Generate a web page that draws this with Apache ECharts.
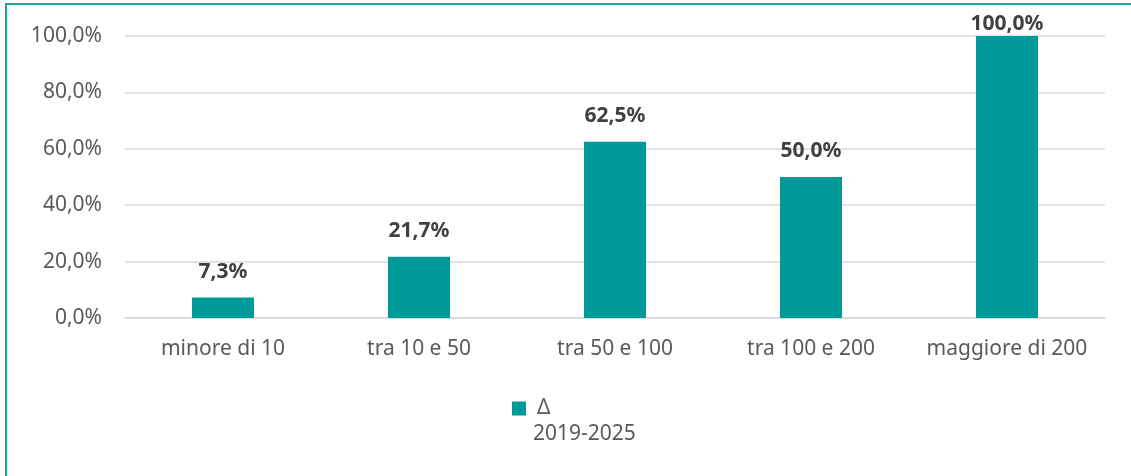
<!DOCTYPE html>
<html>
<head>
<meta charset="utf-8">
<script src="https://cdn.jsdelivr.net/npm/echarts@6/dist/echarts.min.js"></script>
<style>
  html, body { margin: 0; padding: 0; background: #fff; }
  #frame {
    position: absolute; left: 5px; top: 3px; width: 1126px; height: 473px;
    border-top: 2px solid #1ba3a3; border-left: 2px solid #1ba3a3;
    box-sizing: border-box;
  }
  #main { position: absolute; left: 0; top: 0; width: 1131px; height: 476px; }
</style>
</head>
<body>
<div id="frame"></div>
<div id="main"></div>
<script>
// categorie (classi dimensionali)
var categories = ['minore di 10', 'tra 10 e 50', 'tra 50 e 100', 'tra 100 e 200', 'maggiore di 200'];
// variazione percentuale 2019-2025
var values = [7.3, 21.7, 62.5, 50.0, 100.0];
var seriesName = 'Δ\n2019-2025';
var yTicks = [0, 20, 40, 60, 80, 100];

var chart = echarts.init(document.getElementById('main'), null, { renderer: 'canvas' });

function pct(v) {
  return v.toFixed(1).replace('.', ',') + '%';
}

// l'ultima etichetta sta più vicina alla barra (come in Excel)
var seriesData = values.map(function (v) {
  if (v >= yTicks[yTicks.length - 1]) {
    return { value: v, label: { distance: 1 } };
  }
  return v;
});

var nameParts = seriesName.split('\n');

chart.setOption({
  animation: false,
  textStyle: { fontFamily: 'Noto Sans' },
  grid: { left: 125, right: 26, top: 36, bottom: 158 },
  legend: {
    data: [seriesName],
    left: 507,
    top: 393,
    itemWidth: 14,
    itemHeight: 14,
    icon: 'rect',
    formatter: function () { return nameParts[0]; },
    textStyle: { color: '#595959', fontSize: 21, padding: [0, 0, 0, 6] }
  },
  // seconda riga del nome in legenda
  graphic: [{
    type: 'text',
    left: 533,
    top: 424,
    style: { text: nameParts[1], fill: '#595959', font: '21px "Noto Sans"' }
  }],
  xAxis: {
    type: 'category',
    data: categories,
    axisLine: { show: true, lineStyle: { color: '#d9d9d9', width: 1.5 } },
    axisTick: { show: false },
    axisLabel: { color: '#595959', fontSize: 21, margin: 21, interval: 0, hideOverlap: false }
  },
  yAxis: {
    type: 'value',
    min: yTicks[0],
    max: yTicks[yTicks.length - 1],
    interval: 20,
    axisLine: { show: false },
    axisTick: { show: false },
    splitLine: { lineStyle: { color: '#d9d9d9', width: 1.5 } },
    axisLabel: {
      color: '#595959', fontSize: 21, margin: 23,
      formatter: function (v) { return pct(v); }
    }
  },
  series: [{
    name: seriesName,
    type: 'bar',
    data: seriesData,
    barWidth: 62,
    itemStyle: { color: '#009999' },
    label: {
      show: true,
      position: 'top',
      distance: 15,
      color: '#404040',
      fontSize: 21,
      fontWeight: 'bold',
      formatter: function (p) { return pct(p.value); }
    }
  }]
});
</script>
</body>
</html>
